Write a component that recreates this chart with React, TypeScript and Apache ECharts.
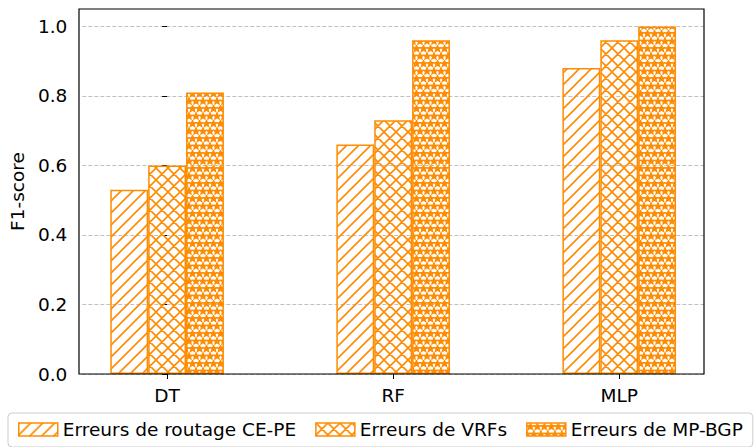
import React, { useEffect, useRef } from 'react';
import * as echarts from 'echarts';

const categories = ['DT', 'RF', 'MLP'];
const seriesNames = ['Erreurs de routage CE-PE', 'Erreurs de VRFs', 'Erreurs de MP-BGP'];
const routageCEPE = [0.53, 0.66, 0.88];
const erreursVRFs = [0.6, 0.73, 0.96];
const erreursMPBGP = [0.81, 0.96, 1.0];
const yTickValues = [0, 0.2, 0.4, 0.6, 0.8, 1.0];

const ORANGE = '#ff8c00';
const FONT = 'DejaVu Sans';
const FS = 18.5;

function drawStar(ctx: CanvasRenderingContext2D, cx: number, cy: number, R: number) {
  const r = R * 0.45;
  ctx.beginPath();
  for (let i = 0; i < 10; i++) {
    const a = -Math.PI / 2 + (i * Math.PI) / 5;
    const rr = i % 2 === 0 ? R : r;
    const x = cx + rr * Math.cos(a);
    const y = cy + rr * Math.sin(a);
    if (i === 0) ctx.moveTo(x, y);
    else ctx.lineTo(x, y);
  }
  ctx.closePath();
  ctx.fill();
  ctx.stroke();
}

function makePattern(kind: 'slash' | 'cross' | 'star') {
  const c = document.createElement('canvas');
  let w = 12;
  let h = 12;
  if (kind === 'star') {
    w = 14;
    h = 15;
  }
  c.width = w;
  c.height = h;
  const ctx = c.getContext('2d')!;
  ctx.strokeStyle = ORANGE;
  ctx.fillStyle = ORANGE;
  ctx.lineWidth = 1.6;
  if (kind === 'slash' || kind === 'cross') {
    ctx.beginPath();
    for (let k = -1; k <= 1; k++) {
      ctx.moveTo(-2, h + 2 + k * w);
      ctx.lineTo(w + 2, -2 + k * w);
    }
    if (kind === 'cross') {
      for (let k = -1; k <= 1; k++) {
        ctx.moveTo(-2, -2 + k * w);
        ctx.lineTo(w + 2, h + 2 + k * w);
      }
    }
    ctx.stroke();
  } else {
    ctx.lineWidth = 1.2;
    const R = 3.5;
    drawStar(ctx, 3.5, 3.75, R);
    drawStar(ctx, 10.5, 3.75, R);
    drawStar(ctx, 0, 11.25, R);
    drawStar(ctx, 7, 11.25, R);
    drawStar(ctx, 14, 11.25, R);
  }
  return { image: c, repeat: 'repeat', imageWidth: w, imageHeight: h } as any;
}

export default function App() {
  const ref = useRef<HTMLDivElement>(null);

  useEffect(() => {
    if (!ref.current) return;
    const chart = echarts.init(ref.current, null, { renderer: 'svg' });

    const gridLeft = 79;
    const gridTop = 9;
    const gridWidth = 625;
    const gridHeight = 365;
    const xMin = -0.375;
    const xMax = categories.length - 1 + 0.375;
    const barWidth = gridWidth / (xMax - xMin) / 6;

    const patterns = [makePattern('slash'), makePattern('cross'), makePattern('star')];
    const values = [routageCEPE, erreursVRFs, erreursMPBGP];
    const catIdx = categories.map((_, i) => i);

    chart.setOption({
      animation: false,
      backgroundColor: '#ffffff',
      textStyle: { fontFamily: FONT },
      grid: {
        left: gridLeft,
        top: gridTop,
        width: gridWidth,
        height: gridHeight,
      },
      legend: {
        left: 8,
        top: 413,
        orient: 'horizontal',
        selectedMode: false,
        padding: [7, 10, 8, 10],
        itemWidth: 39,
        itemHeight: 13,
        itemGap: 19,
        borderColor: '#cccccc',
        borderWidth: 1,
        borderRadius: 4,
        backgroundColor: '#ffffff',
        icon: 'rect',
        itemStyle: { borderColor: ORANGE, borderWidth: 1.5 },
        textStyle: { fontSize: FS, fontFamily: FONT, color: '#000' },
        data: seriesNames,
      },
      xAxis: {
        type: 'value',
        min: xMin,
        max: xMax,
        axisLine: { show: false, onZero: false },
        axisTick: {
          show: true,
          length: 5,
          customValues: catIdx,
          lineStyle: { color: '#000', width: 1 },
        },
        axisLabel: {
          customValues: catIdx,
          formatter: (v: number) => categories[Math.round(v)] ?? '',
          margin: 12,
          fontSize: FS,
          fontFamily: FONT,
          color: '#000',
        },
        splitLine: { show: false },
      },
      yAxis: {
        type: 'value',
        min: 0,
        max: 1.05,
        interval: 0.2,
        name: 'F1-score',
        nameLocation: 'middle',
        nameGap: 50,
        nameRotate: 90,
        nameTextStyle: { fontSize: FS, fontFamily: FONT, color: '#000' },
        axisLine: { show: false },
        axisTick: {
          show: true,
          length: 5,
          customValues: yTickValues,
          lineStyle: { color: '#000', width: 1 },
        },
        axisLabel: {
          customValues: yTickValues,
          formatter: (v: number) => v.toFixed(1),
          margin: 15,
          fontSize: FS,
          fontFamily: FONT,
          color: '#000',
        },
        splitLine: {
          show: true,
          lineStyle: { color: '#b0b0b0', type: [4, 2], width: 0.8 },
        },
      },
      series: seriesNames.map((name, s) => ({
        type: 'bar',
        name,
        barWidth,
        barGap: '0%',
        itemStyle: {
          color: patterns[s],
          borderColor: ORANGE,
          borderWidth: 1.5,
        },
        data: catIdx.map((i) => [i, values[s][i]]),
      })),
      graphic: [
        {
          type: 'rect',
          z: 100,
          silent: true,
          shape: { x: gridLeft, y: gridTop, width: gridWidth, height: gridHeight },
          style: { fill: 'none', stroke: '#000', lineWidth: 1.2 },
        },
      ],
    });

    return () => {
      chart.dispose();
    };
  }, []);

  return (
    <div
      ref={ref}
      style={{ position: 'fixed', left: 0, top: 0, width: 755, height: 447 }}
    />
  );
}
